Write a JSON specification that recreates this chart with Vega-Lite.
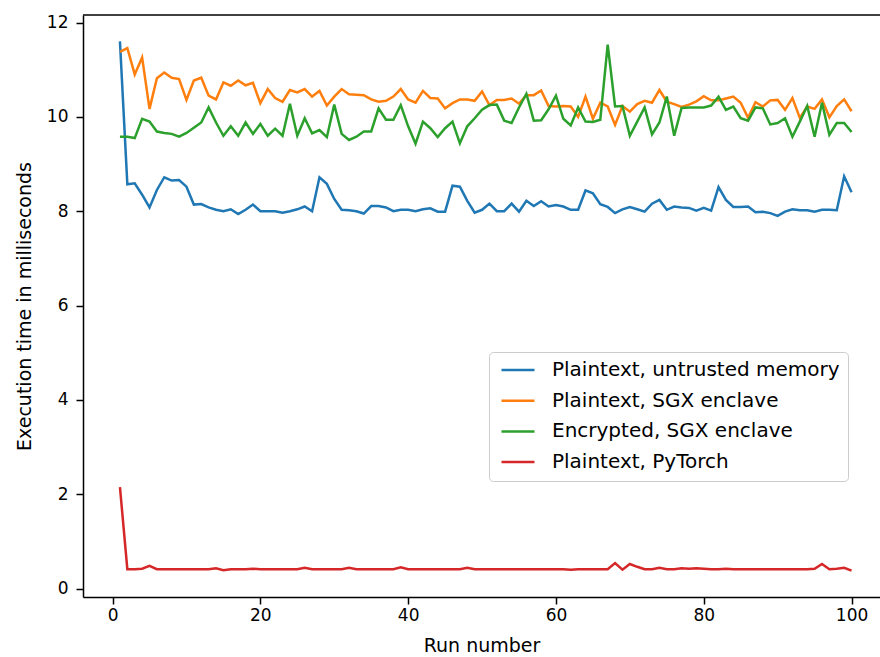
{
  "$schema": "https://vega.github.io/schema/vega-lite/v6.json",
  "width": 797,
  "height": 582,
  "autosize": {"type": "none"},
  "padding": {"left": 83, "top": 15, "right": 0, "bottom": 60},
  "background": "white",
  "config": {
    "view": {"stroke": null},
    "font": "DejaVu Sans",
    "axis": {
      "grid": false,
      "domainColor": "black",
      "domainWidth": 1.5,
      "tickColor": "black",
      "tickWidth": 1.5,
      "tickSize": 7,
      "labelFontSize": 17,
      "titleFontSize": 19,
      "labelColor": "black",
      "titleColor": "black",
      "titleFontWeight": "normal",
      "labelPadding": 3
    },
    "legend": {
      "orient": "none",
      "legendX": 406,
      "legendY": 337,
      "title": null,
      "symbolType": "M-1,0H5",
      "symbolSize": 121,
      "symbolStrokeWidth": 2.5,
      "labelFontSize": 20,
      "labelLimit": 500,
      "labelColor": "black",
      "strokeColor": "#cccccc",
      "fillColor": "white",
      "padding": 8,
      "cornerRadius": 4,
      "labelOffset": 35,
      "rowPadding": 10.7
    }
  },
  "data": {
    "values": [
      {"run":1,"u":11.6,"s":11.38,"e":9.58,"p":2.15},
      {"run":2,"u":8.57,"s":11.46,"e":9.58,"p":0.41},
      {"run":3,"u":8.59,"s":10.9,"e":9.55,"p":0.41},
      {"run":4,"u":8.35,"s":11.26,"e":9.96,"p":0.42},
      {"run":5,"u":8.08,"s":10.17,"e":9.9,"p":0.48},
      {"run":6,"u":8.45,"s":10.82,"e":9.69,"p":0.41},
      {"run":7,"u":8.72,"s":10.94,"e":9.66,"p":0.41},
      {"run":8,"u":8.65,"s":10.83,"e":9.64,"p":0.41},
      {"run":9,"u":8.66,"s":10.8,"e":9.58,"p":0.41},
      {"run":10,"u":8.52,"s":10.36,"e":9.66,"p":0.41},
      {"run":11,"u":8.14,"s":10.77,"e":9.77,"p":0.41},
      {"run":12,"u":8.15,"s":10.83,"e":9.88,"p":0.41},
      {"run":13,"u":8.08,"s":10.45,"e":10.2,"p":0.41},
      {"run":14,"u":8.03,"s":10.37,"e":9.88,"p":0.43},
      {"run":15,"u":8.0,"s":10.73,"e":9.6,"p":0.39},
      {"run":16,"u":8.04,"s":10.66,"e":9.8,"p":0.41},
      {"run":17,"u":7.94,"s":10.77,"e":9.6,"p":0.41},
      {"run":18,"u":8.03,"s":10.67,"e":9.88,"p":0.41},
      {"run":19,"u":8.14,"s":10.72,"e":9.64,"p":0.42},
      {"run":20,"u":8.0,"s":10.29,"e":9.85,"p":0.41},
      {"run":21,"u":8.0,"s":10.59,"e":9.6,"p":0.41},
      {"run":22,"u":8.0,"s":10.4,"e":9.75,"p":0.41},
      {"run":23,"u":7.97,"s":10.32,"e":9.6,"p":0.41},
      {"run":24,"u":8.0,"s":10.57,"e":10.28,"p":0.41},
      {"run":25,"u":8.04,"s":10.52,"e":9.6,"p":0.41},
      {"run":26,"u":8.1,"s":10.59,"e":9.97,"p":0.44},
      {"run":27,"u":8.0,"s":10.43,"e":9.65,"p":0.41},
      {"run":28,"u":8.72,"s":10.55,"e":9.72,"p":0.41},
      {"run":29,"u":8.58,"s":10.24,"e":9.57,"p":0.41},
      {"run":30,"u":8.26,"s":10.43,"e":10.26,"p":0.41},
      {"run":31,"u":8.03,"s":10.59,"e":9.64,"p":0.41},
      {"run":32,"u":8.02,"s":10.48,"e":9.51,"p":0.44},
      {"run":33,"u":8.0,"s":10.47,"e":9.58,"p":0.41},
      {"run":34,"u":7.95,"s":10.46,"e":9.69,"p":0.41},
      {"run":35,"u":8.11,"s":10.37,"e":9.69,"p":0.41},
      {"run":36,"u":8.11,"s":10.32,"e":10.18,"p":0.41},
      {"run":37,"u":8.08,"s":10.34,"e":9.94,"p":0.41},
      {"run":38,"u":8.0,"s":10.43,"e":9.94,"p":0.41},
      {"run":39,"u":8.03,"s":10.59,"e":10.25,"p":0.45},
      {"run":40,"u":8.03,"s":10.37,"e":9.8,"p":0.41},
      {"run":41,"u":8.0,"s":10.3,"e":9.43,"p":0.41},
      {"run":42,"u":8.04,"s":10.55,"e":9.9,"p":0.41},
      {"run":43,"u":8.06,"s":10.4,"e":9.76,"p":0.41},
      {"run":44,"u":7.99,"s":10.39,"e":9.57,"p":0.41},
      {"run":45,"u":7.99,"s":10.18,"e":9.76,"p":0.41},
      {"run":46,"u":8.54,"s":10.29,"e":9.9,"p":0.41},
      {"run":47,"u":8.52,"s":10.37,"e":9.44,"p":0.41},
      {"run":48,"u":8.22,"s":10.37,"e":9.8,"p":0.44},
      {"run":49,"u":7.97,"s":10.34,"e":9.97,"p":0.41},
      {"run":50,"u":8.03,"s":10.54,"e":10.15,"p":0.41},
      {"run":51,"u":8.16,"s":10.25,"e":10.25,"p":0.41},
      {"run":52,"u":8.0,"s":10.36,"e":10.26,"p":0.41},
      {"run":53,"u":8.0,"s":10.36,"e":9.92,"p":0.41},
      {"run":54,"u":8.16,"s":10.39,"e":9.87,"p":0.41},
      {"run":55,"u":7.99,"s":10.28,"e":10.2,"p":0.41},
      {"run":56,"u":8.22,"s":10.46,"e":10.49,"p":0.41},
      {"run":57,"u":8.11,"s":10.46,"e":9.92,"p":0.41},
      {"run":58,"u":8.21,"s":10.56,"e":9.93,"p":0.41},
      {"run":59,"u":8.1,"s":10.23,"e":10.16,"p":0.41},
      {"run":60,"u":8.13,"s":10.22,"e":10.45,"p":0.41},
      {"run":61,"u":8.1,"s":10.23,"e":9.96,"p":0.41},
      {"run":62,"u":8.03,"s":10.22,"e":9.82,"p":0.4},
      {"run":63,"u":8.03,"s":10.0,"e":10.2,"p":0.41},
      {"run":64,"u":8.44,"s":10.43,"e":9.9,"p":0.41},
      {"run":65,"u":8.38,"s":9.96,"e":9.89,"p":0.41},
      {"run":66,"u":8.15,"s":10.3,"e":9.94,"p":0.41},
      {"run":67,"u":8.09,"s":10.22,"e":11.53,"p":0.41},
      {"run":68,"u":7.96,"s":9.83,"e":10.22,"p":0.54},
      {"run":69,"u":8.04,"s":10.23,"e":10.23,"p":0.4},
      {"run":70,"u":8.09,"s":10.11,"e":9.6,"p":0.52},
      {"run":71,"u":8.04,"s":10.27,"e":9.9,"p":0.46},
      {"run":72,"u":7.99,"s":10.34,"e":10.2,"p":0.41},
      {"run":73,"u":8.16,"s":10.3,"e":9.63,"p":0.41},
      {"run":74,"u":8.24,"s":10.57,"e":9.88,"p":0.44},
      {"run":75,"u":8.03,"s":10.32,"e":10.43,"p":0.41},
      {"run":76,"u":8.1,"s":10.27,"e":9.6,"p":0.41},
      {"run":77,"u":8.08,"s":10.21,"e":10.19,"p":0.43},
      {"run":78,"u":8.07,"s":10.26,"e":10.2,"p":0.42},
      {"run":79,"u":8.01,"s":10.33,"e":10.2,"p":0.43},
      {"run":80,"u":8.07,"s":10.44,"e":10.2,"p":0.42},
      {"run":81,"u":8.01,"s":10.35,"e":10.24,"p":0.41},
      {"run":82,"u":8.51,"s":10.35,"e":10.43,"p":0.41},
      {"run":83,"u":8.24,"s":10.39,"e":10.15,"p":0.42},
      {"run":84,"u":8.09,"s":10.43,"e":10.22,"p":0.41},
      {"run":85,"u":8.09,"s":10.3,"e":9.97,"p":0.41},
      {"run":86,"u":8.1,"s":9.98,"e":9.92,"p":0.41},
      {"run":87,"u":7.98,"s":10.31,"e":10.2,"p":0.41},
      {"run":88,"u":7.99,"s":10.22,"e":10.18,"p":0.41},
      {"run":89,"u":7.96,"s":10.35,"e":9.84,"p":0.41},
      {"run":90,"u":7.9,"s":10.36,"e":9.87,"p":0.41},
      {"run":91,"u":7.99,"s":10.15,"e":9.97,"p":0.41},
      {"run":92,"u":8.04,"s":10.4,"e":9.58,"p":0.41},
      {"run":93,"u":8.02,"s":9.98,"e":9.9,"p":0.41},
      {"run":94,"u":8.02,"s":10.22,"e":10.23,"p":0.41},
      {"run":95,"u":7.99,"s":10.17,"e":9.58,"p":0.42},
      {"run":96,"u":8.03,"s":10.37,"e":10.3,"p":0.52},
      {"run":97,"u":8.03,"s":9.99,"e":9.62,"p":0.41},
      {"run":98,"u":8.02,"s":10.23,"e":9.87,"p":0.42},
      {"run":99,"u":8.74,"s":10.37,"e":9.87,"p":0.44},
      {"run":100,"u":8.4,"s":10.12,"e":9.68,"p":0.38}
    ]
  },
  "layer": [
    {
      "transform": [{"fold": ["u", "s", "e", "p"], "as": ["series", "ms"]}],
      "mark": {"type": "line", "strokeWidth": 2.5},
      "encoding": {
        "x": {
          "field": "run",
          "type": "quantitative",
          "scale": {"domain": [-4, 103.85], "nice": false, "zero": false},
          "axis": {"values": [0, 20, 40, 60, 80, 100], "title": "Run number", "titlePadding": 13}
        },
        "y": {
          "field": "ms",
          "type": "quantitative",
          "scale": {"domain": [-0.18, 12.16], "nice": false, "zero": false},
          "axis": {"values": [0, 2, 4, 6, 8, 10, 12], "title": "Execution time in milliseconds", "titlePadding": 12, "labelPadding": 8}
        },
        "color": {
          "field": "series",
          "type": "nominal",
          "sort": ["u", "s", "e", "p"],
          "scale": {"domain": ["u", "s", "e", "p"], "range": ["#1f77b4", "#ff7f0e", "#2ca02c", "#d62728"]},
          "legend": {
            "labelExpr": "{'u': 'Plaintext, untrusted memory', 's': 'Plaintext, SGX enclave', 'e': 'Encrypted, SGX enclave', 'p': 'Plaintext, PyTorch'}[datum.label]"
          }
        }
      }
    },
    {
      "data": {"values": [{"top": 12.16}]},
      "mark": {"type": "rule", "color": "black", "strokeWidth": 1.5},
      "encoding": {
        "y": {
          "field": "top",
          "type": "quantitative",
          "scale": {"domain": [-0.18, 12.16], "nice": false, "zero": false},
          "axis": {"values": [0, 2, 4, 6, 8, 10, 12], "title": "Execution time in milliseconds", "titlePadding": 12, "labelPadding": 8}
        }
      }
    }
  ]
}
